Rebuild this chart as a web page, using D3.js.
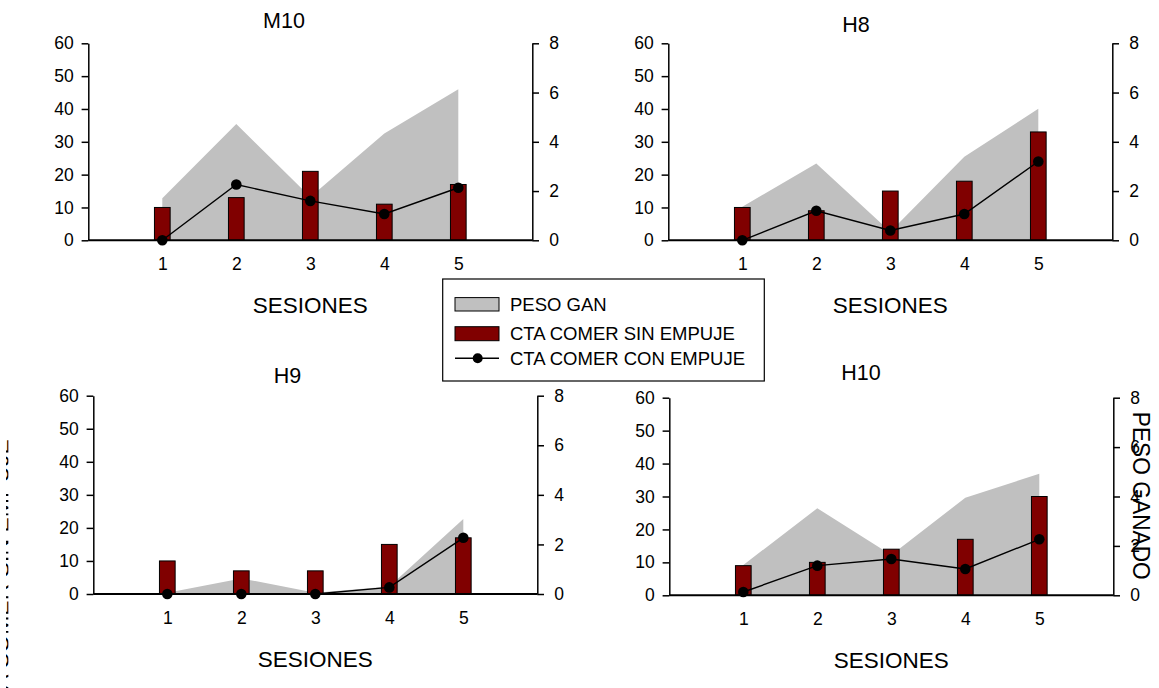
<!DOCTYPE html>
<html>
<head>
<meta charset="utf-8">
<script src="https://cdn.jsdelivr.net/npm/d3@7"></script>
<style>
  body { margin: 0; background: #fff; }
</style>
</head>
<body>
<script>
// sessions on the x axis, one panel per subject
const sessions = [1, 2, 3, 4, 5];
const subjects = ["M10", "H8", "H9", "H10"];

// weight gained (right axis, 0-8), one row per subject
const pesoGanado = [
  [1.71, 4.72, 1.76, 4.34, 6.13],
  [1.36, 3.12, 0.35, 3.39, 5.34],
  [0.05, 0.63, 0.05, 0.3, 3.03],
  [1.23, 3.52, 1.63, 3.95, 4.92]
];
// counts (left axis, 0-60)
const ctaSinEmpuje = [
  [10, 13, 21, 11, 17],
  [10, 9, 15, 18, 33],
  [10, 7, 7, 15, 17],
  [9, 10, 14, 17, 30]
];
const ctaConEmpuje = [
  [0, 17, 12, 8, 16],
  [0, 9, 3, 8, 24],
  [0, 0, 0, 2, 17],
  [1, 9, 11, 8, 17]
];

const leftTicks = [0, 10, 20, 30, 40, 50, 60];
const rightTicks = [0, 2, 4, 6, 8];
const legendLabels = ["PESO GAN", "CTA COMER SIN EMPUJE", "CTA COMER CON EMPUJE"];

// panel frames (pixel boxes)
const frames = [
  {l: 88.3, r: 532.3, t: 43.3, b: 240.3, tx: 284, ty: 28.3, sy: 313.3},
  {l: 668.3, r: 1112.3, t: 43.3, b: 240.3, tx: 856, ty: 32.3, sy: 313.3},
  {l: 93.3, r: 537.3, t: 395.7, b: 594, tx: 287.5, ty: 382.7, sy: 666.7},
  {l: 669.3, r: 1113.3, t: 397.7, b: 595.3, tx: 861, ty: 380, sy: 668.3}
];

const font = "'Liberation Sans', Arial, sans-serif";
const grey = "#c0c0c0", maroon = "#800000";
const tickFont = 17.5;

const svg = d3.select("body").append("svg")
  .attr("width", 1159)
  .attr("height", 688)
  .style("font-family", font);

function styleAxis(a) {
  a.attr("font-family", font);
  a.selectAll("text").attr("font-size", tickFont).attr("fill", "#000");
  a.select(".domain").attr("stroke-width", 1.5);
  a.selectAll(".tick line").attr("stroke-width", 1.5);
}

subjects.forEach((name, i) => {
  const f = frames[i];
  const x = d3.scaleLinear().domain([0, 6]).range([f.l, f.r]);
  const yL = d3.scaleLinear().domain([0, 60]).range([f.b, f.t]);
  const yR = d3.scaleLinear().domain([0, 8]).range([f.b, f.t]);

  const rows = sessions.map((s, j) => ({
    s: s, peso: pesoGanado[i][j], sin: ctaSinEmpuje[i][j], con: ctaConEmpuje[i][j]
  }));

  const g = svg.append("g");

  // grey area
  g.append("path")
    .datum(rows)
    .attr("d", d3.area().x(d => x(d.s)).y0(yR(0)).y1(d => yR(d.peso)))
    .attr("fill", grey);

  // bars
  const bw = (x(1) - x(0)) * 0.212;
  g.selectAll("rect.bar")
    .data(rows)
    .join("rect")
    .attr("class", "bar")
    .attr("x", d => x(d.s) - bw / 2)
    .attr("y", d => yL(d.sin))
    .attr("width", bw)
    .attr("height", d => yL(0) - yL(d.sin))
    .attr("fill", maroon)
    .attr("stroke", "#000")
    .attr("stroke-width", 1);

  // left axis
  g.append("g")
    .attr("transform", `translate(${f.l},0)`)
    .call(d3.axisLeft(yL).tickValues(leftTicks).tickSize(6.7).tickSizeOuter(0).tickPadding(7.8))
    .call(styleAxis);

  // right axis
  g.append("g")
    .attr("transform", `translate(${f.r},0)`)
    .call(d3.axisRight(yR).tickValues(rightTicks).tickSize(6.7).tickSizeOuter(0).tickPadding(10.3))
    .call(styleAxis);

  // session labels
  g.append("g")
    .attr("transform", `translate(0,${f.b})`)
    .call(d3.axisBottom(x).tickValues(sessions).tickFormat(d3.format("d")).tickSize(0).tickPadding(17.3))
    .call(styleAxis)
    .call(a => a.select(".domain").remove());

  // base line
  g.append("line")
    .attr("x1", x(0)).attr("x2", x(6))
    .attr("y1", yL(0)).attr("y2", yL(0))
    .attr("stroke", "#000")
    .attr("stroke-width", 2);

  // line with dots
  g.append("path")
    .datum(rows)
    .attr("d", d3.line().x(d => x(d.s)).y(d => yL(d.con)))
    .attr("fill", "none")
    .attr("stroke", "#000")
    .attr("stroke-width", 1.4);

  g.selectAll("circle")
    .data(rows)
    .join("circle")
    .attr("cx", d => x(d.s))
    .attr("cy", d => yL(d.con))
    .attr("r", 5.3)
    .attr("fill", "#000");

  // title and x label
  g.append("text")
    .attr("x", f.tx).attr("y", f.ty)
    .attr("text-anchor", "middle")
    .attr("font-size", 21.5)
    .text(name);

  g.append("text")
    .attr("x", (f.l + f.r) / 2).attr("y", f.sy)
    .attr("text-anchor", "middle")
    .attr("font-size", 22.5)
    .text("SESIONES");
});

// legend
const lg = svg.append("g");
lg.append("rect")
  .attr("x", 442.7).attr("y", 279)
  .attr("width", 321.6).attr("height", 102)
  .attr("fill", "#fff")
  .attr("stroke", "#000")
  .attr("stroke-width", 1.2);

const rowY = [304.3, 333.7, 358.3];
lg.append("rect")
  .attr("x", 455).attr("y", rowY[0] - 6.7)
  .attr("width", 44).attr("height", 13.4)
  .attr("fill", grey).attr("stroke", "#000").attr("stroke-width", 1);
lg.append("rect")
  .attr("x", 455).attr("y", rowY[1] - 7)
  .attr("width", 44).attr("height", 14)
  .attr("fill", maroon).attr("stroke", "#000").attr("stroke-width", 1);
lg.append("line")
  .attr("x1", 455).attr("x2", 499)
  .attr("y1", rowY[2]).attr("y2", rowY[2])
  .attr("stroke", "#000").attr("stroke-width", 1.4);
lg.append("circle")
  .attr("cx", 477.7).attr("cy", rowY[2]).attr("r", 5)
  .attr("fill", "#000");

lg.selectAll("text.lab")
  .data(legendLabels)
  .join("text")
  .attr("class", "lab")
  .attr("x", 510)
  .attr("y", (d, k) => rowY[k] + 6.6)
  .attr("font-size", 18.5)
  .text(d => d);

// right-hand axis title
svg.append("text")
  .attr("transform", "translate(1133.3,495.8) rotate(90)")
  .attr("text-anchor", "middle")
  .attr("font-size", 24)
  .attr("textLength", 168)
  .attr("lengthAdjust", "spacingAndGlyphs")
  .text("PESO GANADO");

// left-hand axis title: only slivers of it show at the page edge
svg.append("clipPath")
  .attr("id", "edge")
  .append("rect")
  .attr("x", 6).attr("y", 0)
  .attr("width", 2.4).attr("height", 688);

svg.append("g")
  .attr("clip-path", "url(#edge)")
  .append("text")
  .attr("transform", "translate(8.5,579) rotate(-90)")
  .attr("text-anchor", "middle")
  .attr("font-size", 23)
  .text("CTA COMER SIN EMPUJE");
</script>
</body>
</html>
